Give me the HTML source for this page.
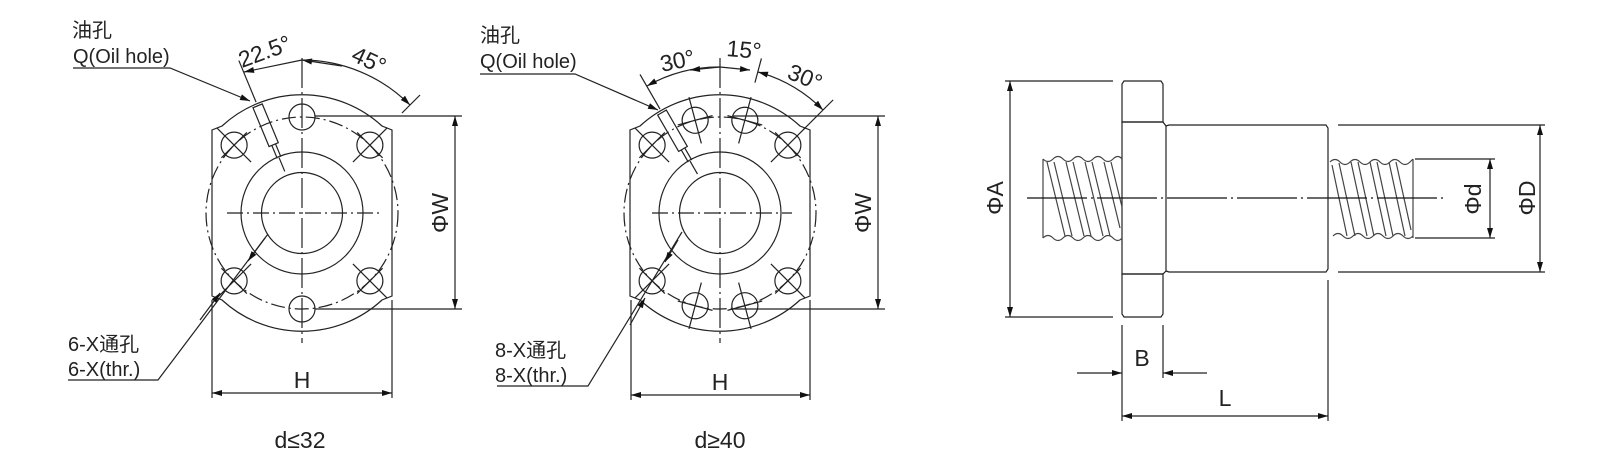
<!DOCTYPE html>
<html><head><meta charset="utf-8"><style>
html,body{margin:0;padding:0;background:#fff;width:1610px;height:461px;overflow:hidden}
svg text{font-family:"Liberation Sans","Noto Sans CJK SC",sans-serif;fill:#222}
</style></head><body>
<svg width="1610" height="461" viewBox="0 0 1610 461" xmlns="http://www.w3.org/2000/svg">
<defs>
<marker id="ar" viewBox="0 0 10 6" refX="10" refY="3" markerWidth="15" markerHeight="6" markerUnits="userSpaceOnUse" orient="auto-start-reverse"><path d="M0,0L10,3L0,6z" fill="#111"/></marker>
</defs>
<g stroke="#222" fill="none" stroke-width="1.2">

<!-- Drawing 1 -->
<g transform="translate(302,213)">
<path d="M-80,-87 A118,118 0 0 1 80,-87 L90,-83 L90,83 L80,87 A118,118 0 0 1 -80,87 L-90,83 L-90,-83 Z"/>
<circle r="96" stroke-dasharray="14,4,2,4"/>
<circle r="61"/>
<circle r="40.5"/>
<line x1="-75" y1="0" x2="80" y2="0" stroke-dasharray="16,4,2,4"/>
<line x1="0" y1="-155" x2="0" y2="130" stroke-dasharray="30,4,2,4"/>
<circle cx="0" cy="-96" r="13"/>
<g transform="rotate(45)"><circle cx="0" cy="-96" r="13"/><line x1="0" y1="-72" x2="0" y2="-120"/><line x1="-18" y1="-96" x2="18" y2="-96"/></g>
<g transform="rotate(-45)"><circle cx="0" cy="-96" r="13"/><line x1="0" y1="-72" x2="0" y2="-120"/><line x1="-18" y1="-96" x2="18" y2="-96"/></g>
<g transform="rotate(135)"><circle cx="0" cy="-96" r="13"/><line x1="0" y1="-72" x2="0" y2="-120"/><line x1="-18" y1="-96" x2="18" y2="-96"/></g>
<g transform="rotate(-135)"><circle cx="0" cy="-96" r="13"/><line x1="0" y1="-72" x2="0" y2="-120"/><line x1="-18" y1="-96" x2="18" y2="-96"/></g>
<circle cx="0" cy="96" r="13"/>
<g transform="rotate(-22.5)">
<rect x="-5" y="-116" width="10" height="42"/><line x1="-2" y1="-74" x2="-2" y2="-60"/><line x1="2" y1="-74" x2="2" y2="-60"/>
<line x1="0" y1="-60" x2="0" y2="-45"/>
<line x1="0" y1="-120" x2="0" y2="-165"/>
</g>
<line x1="0" y1="-153" x2="-58" y2="-141" marker-end="url(#ar)"/>
<line x1="0" y1="-153" x2="40" y2="-147" marker-start="url(#ar)"/>
<path d="M0,-153 A153,153 0 0 1 108,-108" marker-end="url(#ar)"/>
<line x1="100" y1="-100" x2="118" y2="-118"/>
</g>
<line x1="315" y1="116" x2="462" y2="116"/>
<line x1="315" y1="309" x2="462" y2="309"/>
<line x1="455" y1="116" x2="455" y2="309" marker-start="url(#ar)" marker-end="url(#ar)"/>
<line x1="212" y1="300" x2="212" y2="398"/>
<line x1="392" y1="300" x2="392" y2="398"/>
<line x1="212" y1="393" x2="392" y2="393" marker-start="url(#ar)" marker-end="url(#ar)"/>
<polyline points="73,68 170,68 250,101" marker-end="url(#ar)"/>
<polyline points="68,380 158,380 268,234"/>
<line x1="200" y1="320" x2="220" y2="293" marker-end="url(#ar)"/>
<line x1="265" y1="238" x2="248" y2="261" marker-end="url(#ar)"/>

<!-- Drawing 2 -->
<g transform="translate(720,213)">
<path d="M-80,-87 A118,118 0 0 1 80,-87 L90,-83 L90,83 L80,87 A118,118 0 0 1 -80,87 L-90,83 L-90,-83 Z"/>
<circle r="96" stroke-dasharray="14,4,2,4"/>
<circle r="61"/>
<circle r="40.5"/>
<line x1="-68" y1="0" x2="72" y2="0" stroke-dasharray="16,4,2,4"/>
<line x1="0" y1="-155" x2="0" y2="130" stroke-dasharray="30,4,2,4"/>
<g transform="rotate(15)"><circle cx="0" cy="-96" r="13"/><line x1="0" y1="-72" x2="0" y2="-120"/><line x1="-18" y1="-96" x2="18" y2="-96"/></g>
<g transform="rotate(-15)"><circle cx="0" cy="-96" r="13"/><line x1="0" y1="-72" x2="0" y2="-120"/><line x1="-18" y1="-96" x2="18" y2="-96"/></g>
<g transform="rotate(45)"><circle cx="0" cy="-96" r="13"/><line x1="0" y1="-72" x2="0" y2="-120"/><line x1="-18" y1="-96" x2="18" y2="-96"/></g>
<g transform="rotate(-45)"><circle cx="0" cy="-96" r="13"/><line x1="0" y1="-72" x2="0" y2="-120"/><line x1="-18" y1="-96" x2="18" y2="-96"/></g>
<g transform="rotate(135)"><circle cx="0" cy="-96" r="13"/><line x1="0" y1="-72" x2="0" y2="-120"/><line x1="-18" y1="-96" x2="18" y2="-96"/></g>
<g transform="rotate(-135)"><circle cx="0" cy="-96" r="13"/><line x1="0" y1="-72" x2="0" y2="-120"/><line x1="-18" y1="-96" x2="18" y2="-96"/></g>
<g transform="rotate(165)"><circle cx="0" cy="-96" r="13"/><line x1="0" y1="-72" x2="0" y2="-120"/><line x1="-18" y1="-96" x2="18" y2="-96"/></g>
<g transform="rotate(-165)"><circle cx="0" cy="-96" r="13"/><line x1="0" y1="-72" x2="0" y2="-120"/><line x1="-18" y1="-96" x2="18" y2="-96"/></g>
<g transform="rotate(-30)">
<rect x="-5" y="-116" width="10" height="42"/><line x1="-2" y1="-74" x2="-2" y2="-60"/><line x1="2" y1="-74" x2="2" y2="-60"/>
<line x1="0" y1="-60" x2="0" y2="-45"/>
<line x1="0" y1="-120" x2="0" y2="-160"/>
</g>
<g transform="rotate(15)"><line x1="0" y1="-135" x2="0" y2="-160"/></g>
<g transform="rotate(45)"><line x1="0" y1="-118" x2="0" y2="-160"/></g>
<path d="M-73,-127 A146,146 0 0 1 0,-146" marker-start="url(#ar)"/>
<line x1="0" y1="-146" x2="-30" y2="-143" marker-end="url(#ar)"/>
<line x1="0" y1="-146" x2="30" y2="-143" marker-end="url(#ar)"/>
<path d="M38,-141 A146,146 0 0 1 103,-103" marker-start="url(#ar)" marker-end="url(#ar)"/>
</g>
<line x1="733" y1="116" x2="885" y2="116"/>
<line x1="733" y1="309" x2="885" y2="309"/>
<line x1="878" y1="116" x2="878" y2="309" marker-start="url(#ar)" marker-end="url(#ar)"/>
<line x1="631" y1="300" x2="631" y2="400"/>
<line x1="810" y1="300" x2="810" y2="400"/>
<line x1="631" y1="395" x2="810" y2="395" marker-start="url(#ar)" marker-end="url(#ar)"/>
<polyline points="480,74 575,74 658,110" marker-end="url(#ar)"/>
<polyline points="497,386 588,386 682,232"/>
<line x1="630" y1="325" x2="645" y2="298" marker-end="url(#ar)"/>
<line x1="678" y1="240" x2="665" y2="262" marker-end="url(#ar)"/>

<!-- Drawing 3 -->
<path d="M1124,81 L1161,81 L1163,84 L1163,122 L1122,122 L1122,84 Z"/>
<path d="M1122,122 L1163,122 L1166,126 L1166,271 L1163,274 L1122,274 Z"/>
<path d="M1122,274 L1163,274 L1163,314 L1161,317 L1124,317 L1122,314 Z"/>
<path d="M1166,126 L1169,125 L1326,125 L1328,128 L1328,269 L1326,272 L1169,272 L1166,271"/>
<g stroke="#444">
<path d="M1043,159 q5,5 10,0 q5,-5 10,0 q5,5 10,0 q5,-5 10,0 q5,5 10,0 q5,-5 10,0 q5,5 10,0 q5,-5 9,0"/>
<path d="M1043,238 q5,-5 10,0 q5,5 10,0 q5,-5 10,0 q5,5 10,0 q5,-5 10,0 q5,5 10,0 q5,-5 10,0 q5,5 9,0"/>
<line x1="1043" y1="159" x2="1043" y2="238"/>
<line x1="1047" y1="162" x2="1065" y2="236"/><line x1="1054" y1="162" x2="1072" y2="236"/>
<line x1="1066" y1="162" x2="1084" y2="236"/><line x1="1073" y1="162" x2="1091" y2="236"/>
<line x1="1085" y1="162" x2="1103" y2="236"/><line x1="1092" y1="162" x2="1110" y2="236"/>
<line x1="1104" y1="162" x2="1120" y2="228"/><line x1="1111" y1="162" x2="1122" y2="207"/>
<path d="M1330,162 q5,-5 10,0 q5,5 10,0 q5,-5 10,0 q5,5 10,0 q5,-5 10,0 q5,5 10,0 q5,-5 10,0 q5,5 10,0 q3,-3 3,-3"/>
<path d="M1333,236 q5,-5 10,0 q5,5 10,0 q5,-5 10,0 q5,5 10,0 q5,-5 10,0 q5,5 10,0 q5,-5 10,0 q5,5 10,0"/>
<line x1="1413" y1="159" x2="1413" y2="238"/>
<line x1="1332" y1="165" x2="1347" y2="236"/><line x1="1339" y1="163" x2="1355" y2="236"/>
<line x1="1351" y1="162" x2="1367" y2="236"/><line x1="1358" y1="162" x2="1374" y2="236"/>
<line x1="1370" y1="162" x2="1386" y2="236"/><line x1="1377" y1="162" x2="1393" y2="236"/>
<line x1="1389" y1="162" x2="1405" y2="236"/><line x1="1396" y1="162" x2="1411" y2="230"/>
</g>
<line x1="1027" y1="198" x2="1447" y2="198" stroke="#111" stroke-dasharray="60,4,2,4"/>
<line x1="1005" y1="81" x2="1113" y2="81"/>
<line x1="1005" y1="317" x2="1113" y2="317"/>
<line x1="1010" y1="81" x2="1010" y2="317" marker-start="url(#ar)" marker-end="url(#ar)"/>
<line x1="1338" y1="125" x2="1545" y2="125"/>
<line x1="1338" y1="272" x2="1545" y2="272"/>
<line x1="1540" y1="125" x2="1540" y2="272" marker-start="url(#ar)" marker-end="url(#ar)"/>
<line x1="1415" y1="159" x2="1495" y2="159"/>
<line x1="1415" y1="238" x2="1495" y2="238"/>
<line x1="1490" y1="159" x2="1490" y2="238" marker-start="url(#ar)" marker-end="url(#ar)"/>
<line x1="1122" y1="325" x2="1122" y2="421"/>
<line x1="1163" y1="325" x2="1163" y2="378"/>
<line x1="1328" y1="280" x2="1328" y2="421"/>
<line x1="1077" y1="373" x2="1122" y2="373" marker-end="url(#ar)"/>
<line x1="1207" y1="373" x2="1163" y2="373" marker-end="url(#ar)"/>
<line x1="1122" y1="416" x2="1328" y2="416" marker-start="url(#ar)" marker-end="url(#ar)"/>
</g>

<g font-size="20">
<text x="72" y="37">油孔</text>
<text x="73" y="63">Q(Oil hole)</text>
<text x="68" y="351">6-X通孔</text>
<text x="68" y="376">6-X(thr.)</text>
<text x="480" y="42">油孔</text>
<text x="480" y="68">Q(Oil hole)</text>
<text x="495" y="357">8-X通孔</text>
<text x="495" y="382">8-X(thr.)</text>
</g>
<g font-size="23">
<text transform="translate(242,68) rotate(-20)">22.5°</text>
<text transform="translate(350,60) rotate(25)">45°</text>
<text transform="translate(662,72) rotate(-12)">30°</text>
<text transform="translate(726,56) rotate(5)">15°</text>
<text transform="translate(786,78) rotate(22)">30°</text>
<text x="302" y="388" text-anchor="middle">H</text>
<text x="720" y="390" text-anchor="middle">H</text>
<text transform="translate(448,213) rotate(-90)" text-anchor="middle">ΦW</text>
<text transform="translate(871,213) rotate(-90)" text-anchor="middle">ΦW</text>
<text transform="translate(1003,198) rotate(-90)" text-anchor="middle">ΦA</text>
<text transform="translate(1481,199) rotate(-90)" text-anchor="middle">Φd</text>
<text transform="translate(1535,198) rotate(-90)" text-anchor="middle">ΦD</text>
<text x="1142" y="366" text-anchor="middle">B</text>
<text x="1225" y="406" text-anchor="middle">L</text>
<text x="300" y="448" text-anchor="middle">d≤32</text>
<text x="720" y="448" text-anchor="middle">d≥40</text>
</g>
</svg>
</body></html>
